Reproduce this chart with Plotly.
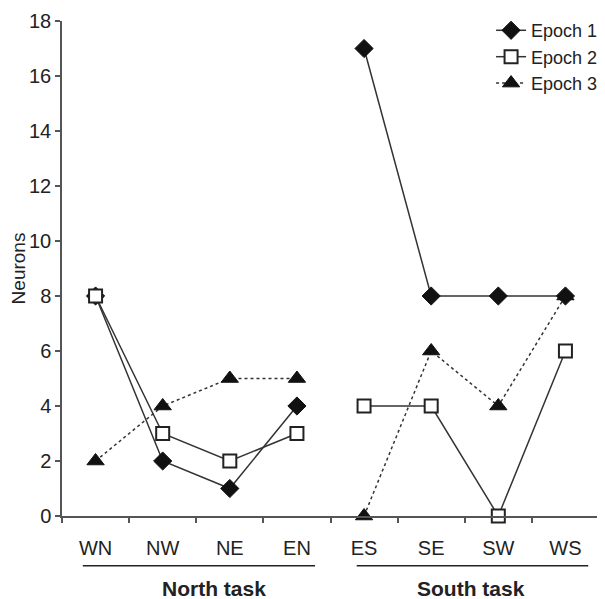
import plotly.graph_objects as go

categories = ["WN", "NW", "NE", "EN", "ES", "SE", "SW", "WS"]
epoch1 = [8, 2, 1, 4, 17, 8, 8, 8]
epoch2 = [8, 3, 2, 3, 4, 4, 0, 6]
epoch3 = [2, 4, 5, 5, 0, 6, 4, 8]
groups = ["North task", "South task"]
y_ticks = list(range(0, 20, 2))

xpos = list(range(len(categories)))
north = xpos[:4]
south = xpos[4:]

fig = go.Figure()

series = [
    ("Epoch 1", epoch1, dict(symbol="diamond", size=14, color="#111111",
                              line=dict(color="#111111", width=1)), "solid"),
    ("Epoch 2", epoch2, dict(symbol="square", size=13, color="white",
                              line=dict(color="#222222", width=2)), "solid"),
    ("Epoch 3", epoch3, dict(symbol="triangle-up", size=15, color="#111111",
                              line=dict(color="#111111", width=1)), "dot"),
]

for name, vals, marker, dash in series:
    for i, idx in enumerate([north, south]):
        fig.add_trace(go.Scatter(
            x=idx, y=[vals[j] for j in idx],
            mode="lines+markers", name=name,
            showlegend=(i == 0),
            line=dict(color="#333333", width=1.5, dash=dash),
            marker=marker, cliponaxis=False,
        ))

fig.update_layout(
    width=597, height=591,
    margin=dict(l=54, r=2, t=11, b=83),
    plot_bgcolor="white", paper_bgcolor="white",
    font=dict(family="Liberation Sans, Arial, sans-serif", size=20, color="#222222"),
    showlegend=True,
    legend=dict(x=0.799, y=1.018, xanchor="left", yanchor="top",
                bgcolor="rgba(0,0,0,0)", font=dict(size=18),
                tracegroupgap=0, itemwidth=30),
    xaxis=dict(
        range=[-0.5, 7.5], tickvals=xpos, ticktext=categories,
        ticks="", showgrid=False, zeroline=False,
        showline=True, linecolor="#555555", linewidth=1.5,
        ticklabelstandoff=13,
        minor=dict(tick0=0.5, dtick=1, ticks="outside", ticklen=5,
                   tickcolor="#555555", tickwidth=1.5, showgrid=False),
    ),
    yaxis=dict(
        range=[0, 18], tickvals=y_ticks, ticks="outside", ticklen=5,
        tickcolor="#555555", tickwidth=1.5, showgrid=False, zeroline=False,
        showline=True, linecolor="#555555", linewidth=1.5,
        title=dict(text="Neurons", font=dict(size=19), standoff=2),
    ),
)

group_spans = [(-0.19, 3.27), (3.89, 7.34)]
group_centers = [1.76, 5.6]
for label, (x0, x1), xc in zip(groups, group_spans, group_centers):
    fig.add_shape(type="line", xref="x", yref="paper", x0=x0, x1=x1,
                  y0=-0.1006, y1=-0.1006, line=dict(color="#222222", width=1.5))
    fig.add_annotation(xref="x", yref="paper", x=xc, y=-0.146,
                       text="<b>%s</b>" % label, showarrow=False,
                       font=dict(size=21, color="#222222"), yanchor="middle")

fig.write_html("out.html")
